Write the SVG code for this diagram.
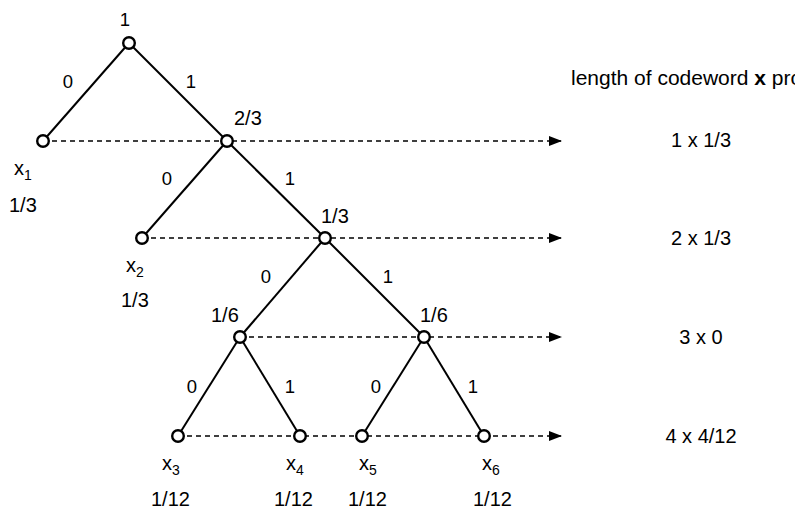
<svg xmlns="http://www.w3.org/2000/svg" width="795" height="513" viewBox="0 0 795 513">
<style>
text{font-family:"Liberation Sans",Arial,sans-serif;fill:#000}
.e{font-size:18.5px;text-anchor:middle}
.v{font-size:20px}
.r{font-size:20px;text-anchor:middle}
.sub{font-size:14px}
.edge{stroke:#000;stroke-width:2;fill:none}
.dash{stroke:#000;stroke-width:1.3;stroke-dasharray:5 4;fill:none}
.node{fill:#fff;stroke:#000;stroke-width:2.4}
</style>
<defs>
<marker id="ah" markerWidth="14" markerHeight="10" refX="13" refY="5" orient="auto" markerUnits="userSpaceOnUse">
<path d="M0,0 L13,5 L0,10 Z" fill="#000"/>
</marker>
</defs>
<g id="connectors">
<line class="dash" x1="43" y1="141" x2="562" y2="141" marker-end="url(#ah)"/>
<line class="dash" x1="142" y1="238" x2="562" y2="238" marker-end="url(#ah)"/>
<line class="dash" x1="240" y1="337" x2="562" y2="337" marker-end="url(#ah)"/>
<line class="dash" x1="178" y1="436" x2="562" y2="436" marker-end="url(#ah)"/>
<line class="edge" x1="129" y1="43" x2="43" y2="141"/>
<line class="edge" x1="129" y1="43" x2="227" y2="141"/>
<line class="edge" x1="227" y1="141" x2="142" y2="238"/>
<line class="edge" x1="227" y1="141" x2="325" y2="238"/>
<line class="edge" x1="325" y1="238" x2="240" y2="337"/>
<line class="edge" x1="325" y1="238" x2="424" y2="337"/>
<line class="edge" x1="240" y1="337" x2="178" y2="436"/>
<line class="edge" x1="240" y1="337" x2="300" y2="436"/>
<line class="edge" x1="424" y1="337" x2="362" y2="436"/>
<line class="edge" x1="424" y1="337" x2="484" y2="436"/>
<text class="e" x="68" y="88">0</text>
<text class="e" x="191" y="88">1</text>
<text class="e" x="167" y="185">0</text>
<text class="e" x="290" y="185">1</text>
<text class="e" x="266" y="283">0</text>
<text class="e" x="388" y="283">1</text>
<text class="e" x="192" y="393">0</text>
<text class="e" x="290" y="393">1</text>
<text class="e" x="376" y="393">0</text>
<text class="e" x="473" y="393">1</text>
</g>
<g id="root">
<circle class="node" cx="129" cy="43" r="5.8"/>
<text class="e" x="125" y="26">1</text>
</g>
<g id="x1">
<circle class="node" cx="43" cy="141" r="5.8"/>
<text class="v" x="14" y="175">x<tspan class="sub" dy="5">1</tspan></text>
<text class="v" x="9" y="212">1/3</text>
</g>
<g id="n1">
<circle class="node" cx="227" cy="141" r="5.8"/>
<text class="v" x="234" y="125">2/3</text>
</g>
<g id="x2">
<circle class="node" cx="142" cy="238" r="5.8"/>
<text class="v" x="126" y="272">x<tspan class="sub" dy="5">2</tspan></text>
<text class="v" x="121" y="307">1/3</text>
</g>
<g id="n2">
<circle class="node" cx="325" cy="238" r="5.8"/>
<text class="v" x="321" y="223">1/3</text>
</g>
<g id="n3">
<circle class="node" cx="240" cy="337" r="5.8"/>
<text class="v" x="211" y="322">1/6</text>
</g>
<g id="n4">
<circle class="node" cx="424" cy="337" r="5.8"/>
<text class="v" x="420" y="322">1/6</text>
</g>
<g id="x3">
<circle class="node" cx="178" cy="436" r="5.8"/>
<text class="v" x="162" y="470">x<tspan class="sub" dy="5">3</tspan></text>
<text class="v" x="151" y="506">1/12</text>
</g>
<g id="x4">
<circle class="node" cx="300" cy="436" r="5.8"/>
<text class="v" x="286" y="470">x<tspan class="sub" dy="5">4</tspan></text>
<text class="v" x="274" y="506">1/12</text>
</g>
<g id="x5">
<circle class="node" cx="362" cy="436" r="5.8"/>
<text class="v" x="359" y="470">x<tspan class="sub" dy="5">5</tspan></text>
<text class="v" x="348" y="506">1/12</text>
</g>
<g id="x6">
<circle class="node" cx="484" cy="436" r="5.8"/>
<text class="v" x="482" y="470">x<tspan class="sub" dy="5">6</tspan></text>
<text class="v" x="473" y="506">1/12</text>
</g>
<g id="legend">
<text class="v" x="571" y="85" style="font-size:21px">length of codeword <tspan font-weight="bold">x</tspan> pro</text>
<text class="r" x="701" y="147">1 x 1/3</text>
<text class="r" x="701" y="245">2 x 1/3</text>
<text class="r" x="701" y="344">3 x 0</text>
<text class="r" x="701" y="443">4 x 4/12</text>
</g>
</svg>
